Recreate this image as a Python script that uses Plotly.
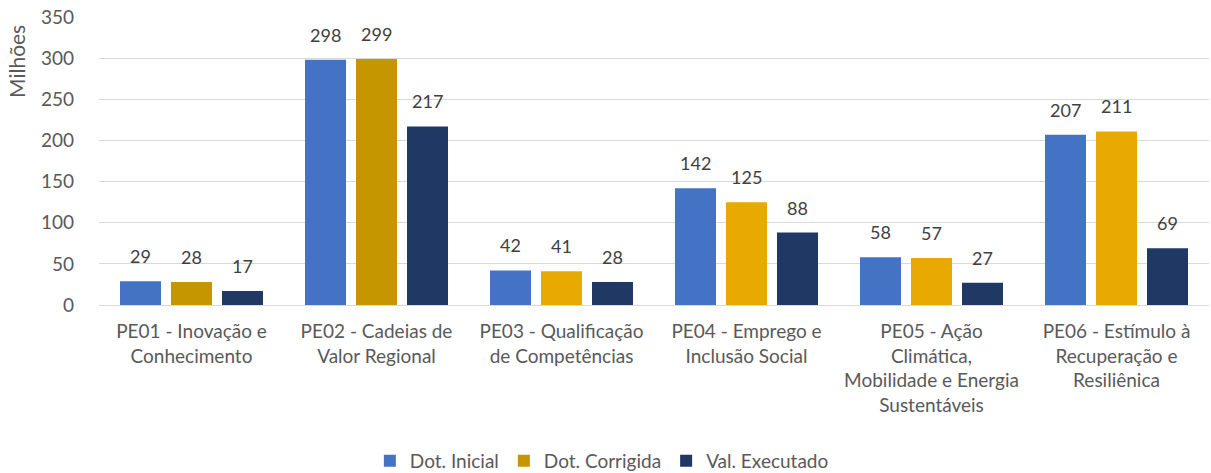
import plotly.graph_objects as go

categories = [
    "PE01 - Inovação e<br>Conhecimento",
    "PE02 - Cadeias de<br>Valor Regional",
    "PE03 - Qualificação<br>de Competências",
    "PE04 - Emprego e<br>Inclusão Social",
    "PE05 - Ação<br>Climática,<br>Mobilidade e Energia<br>Sustentáveis",
    "PE06 - Estímulo à<br>Recuperação e<br>Resiliênica",
]
series_names = ["Dot. Inicial", "Dot. Corrigida", "Val. Executado"]
dot_inicial = [29, 298, 42, 142, 58, 207]
dot_corrigida = [28, 299, 41, 125, 57, 211]
val_executado = [17, 217, 28, 88, 27, 69]

gold_colors = ["#C59600", "#C59600", "#E8AA00", "#E8AA00", "#E8AA00", "#E8AA00"]
series_colors = ["#4472C4", gold_colors, "#203864"]
series_values = [dot_inicial, dot_corrigida, val_executado]

font_family = "Lato, 'Open Sans', sans-serif"
label_font = dict(family=font_family, size=18, color="#404040")

W, H = 1211, 473

fig = go.Figure()
for name, vals, col in zip(series_names, series_values, series_colors):
    fig.add_trace(go.Bar(name=name, x=categories, y=vals, marker=dict(color=col, line=dict(width=0))))

slot_px = 51
for i, vals in enumerate(series_values):
    for cat, v in zip(categories, vals):
        fig.add_annotation(x=cat, y=v, xref="x", yref="y", text=str(v), showarrow=False,
                           xshift=(i - 1) * slot_px, yshift=12, yanchor="bottom",
                           font=label_font)

fig.update_layout(
    width=W, height=H,
    margin=dict(l=99, r=2, t=17, b=168, autoexpand=False),
    paper_bgcolor="white", plot_bgcolor="white",
    barmode="group", bargap=0.173, bargroupgap=0.196,
    font=dict(family=font_family, size=18, color="#595959"),
    legend=dict(orientation="h", x=0.497, xanchor="center", xref="container",
                y=1 - 461 / H, yref="container", yanchor="middle",
                font=dict(family=font_family, size=19, color="#595959"),
                itemwidth=30, tracegroupgap=0),
    showlegend=True,
)
fig.update_yaxes(range=[0, 350], dtick=50, showgrid=True, gridcolor="#D9D9D9", gridwidth=1,
                 zeroline=True, zerolinecolor="#D9D9D9", zerolinewidth=1,
                 ticks="", ticklabelstandoff=24, automargin=False, ticklabeloverflow="allow",
                 tickfont=dict(family=font_family, size=19, color="#595959"))
fig.update_xaxes(showline=False, ticks="", ticklabelstandoff=13, automargin=False,
                 ticklabeloverflow="allow",
                 tickfont=dict(family=font_family, size=19, color="#595959"))

fig.add_annotation(text="Milhões", xref="paper", yref="paper", x=(17 - 99) / 1110, y=0.844,
                   xanchor="center", yanchor="middle", textangle=-90, showarrow=False,
                   font=dict(family=font_family, size=21, color="#595959"))

fig.write_html("out.html", config={"displayModeBar": False},
               post_script="document.body.style.margin='0';")
